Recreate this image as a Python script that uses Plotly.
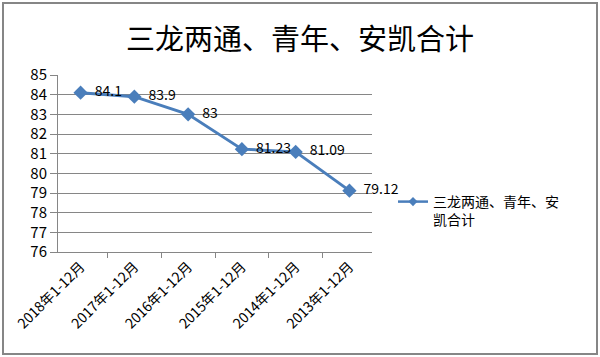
import plotly.graph_objects as go

categories = ["2018年1-12月", "2017年1-12月", "2016年1-12月", "2015年1-12月", "2014年1-12月", "2013年1-12月"]
values = [84.1, 83.9, 83, 81.23, 81.09, 79.12]
labels = ["84.1", "83.9", "83", "81.23", "81.09", "79.12"]
series_name = "三龙两通、青年、安<br>凯合计"
title_text = "三龙两通、青年、安凯合计"

FONT = "Noto Sans CJK SC, Liberation Sans, sans-serif"
BLUE = "#4A7EBB"

fig = go.Figure()
fig.add_trace(go.Scatter(
    x=categories, y=values, mode="lines+markers+text",
    name=series_name, showlegend=False,
    text=["  " + t for t in labels], textposition="middle right",
    textfont=dict(family=FONT, size=14, color="#000000"),
    line=dict(color=BLUE, width=3),
    marker=dict(symbol="diamond", size=11, color=BLUE),
    cliponaxis=False,
))
# legend entry (smaller symbol, as in the reference)
fig.add_trace(go.Scatter(
    x=[None], y=[None], mode="lines+markers", name=series_name,
    line=dict(color=BLUE, width=2.5),
    marker=dict(symbol="diamond", size=7, color=BLUE),
))

L, R, T, B = 58, 228, 75, 105
pw, ph = 600 - L - R, 357 - T - B

fig.update_layout(
    width=600, height=357,
    margin=dict(l=L, r=R, t=T, b=B, autoexpand=False),
    paper_bgcolor="white", plot_bgcolor="white",
    title=dict(text=title_text, x=0.5, xanchor="center", xref="container",
               y=1 - 40 / 357, yanchor="middle", yref="container",
               font=dict(family=FONT, size=29, color="#000000")),
    font=dict(family=FONT, size=14, color="#000000"),
    showlegend=True,
    legend=dict(x=(393 - L) / pw, y=(252 - 186) / ph, xanchor="left", yanchor="top",
                valign="top", bgcolor="rgba(0,0,0,0)", itemwidth=30,
                font=dict(family=FONT, size=14, color="#000000")),
    xaxis=dict(
        type="category", tickangle=-45, tickson="boundaries", automargin=False,
        ticks="outside", ticklen=5, tickcolor="#868686",
        showline=True, linecolor="#868686", linewidth=1,
        showgrid=False, tickfont=dict(family=FONT, size=14, color="#000000"),
    ),
    yaxis=dict(
        range=[76, 85], dtick=1, tick0=76, automargin=False,
        ticks="outside", ticklen=7, tickcolor="#868686",
        showline=True, linecolor="#868686", linewidth=1,
        showgrid=True, gridcolor="#868686", gridwidth=1,
        zeroline=False,
        tickfont=dict(family=FONT, size=15, color="#000000"),
    ),
    shapes=[dict(type="rect", xref="paper", yref="paper",
                 x0=(3 - L) / pw, x1=(597 - L) / pw,
                 y0=(252 - 354) / ph, y1=(252 - 3) / ph,
                 line=dict(color="#868686", width=2), fillcolor="rgba(0,0,0,0)",
                 layer="below")],
)

fig.write_html("out.html", config={"displayModeBar": False},
               post_script="document.body.style.margin='0';")
